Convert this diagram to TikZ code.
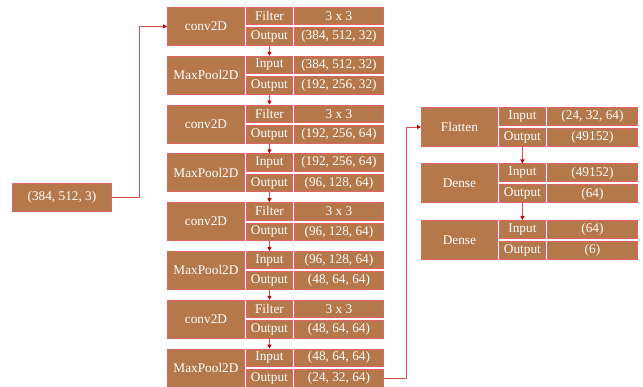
\documentclass[tikz,border=0pt]{standalone}
\usepackage{fontspec}
\setmainfont{Liberation Serif}
\usetikzlibrary{arrows.meta}
\definecolor{cellfill}{HTML}{B5784A}
\definecolor{cellline}{HTML}{E06464}
\definecolor{linkline}{HTML}{D65050}
\definecolor{tipred}{HTML}{C00000}
\tikzset{
  cell/.style={draw=cellline, fill=cellfill, text=white, line width=0.9pt,
    inner sep=0pt, anchor=north west, font=\fontsize{13.3}{15}\selectfont},
  namecell/.style={cell, minimum width=77pt, minimum height=38pt},
  keycell/.style={cell, minimum width=46pt, minimum height=17.5pt},
  valcell/.style={cell, minimum width=89pt, minimum height=17.5pt},
  link/.style={draw=linkline, line width=0.8pt, -{Triangle[length=4pt,width=4pt,fill=tipred,color=tipred]}}
}
\begin{document}
\begin{tikzpicture}[x=1pt,y=1pt]
\useasboundingbox (0,0) rectangle (643,-387);
\node [cell, minimum width=99pt, minimum height=28pt] (in) at (12,-183) {(384, 512, 3)};
\node [namecell] (c1) at (167,-7) {conv2D};
\node [keycell] (c1f) at (246,-7) {Filter};
\node [valcell] (c1fv) at (294,-7) {3 x 3};
\node [keycell] (c1o) at (246,-27.5) {Output};
\node [valcell] (c1ov) at (294,-27.5) {(384, 512, 32)};
\node [namecell] (m1) at (167,-55.8) {MaxPool2D};
\node [keycell] (m1i) at (246,-55.8) {Input};
\node [valcell] (m1iv) at (294,-55.8) {(384, 512, 32)};
\node [keycell] (m1o) at (246,-76.3) {Output};
\node [valcell] (m1ov) at (294,-76.3) {(192, 256, 32)};
\node [namecell] (c2) at (167,-104.6) {conv2D};
\node [keycell] (c2f) at (246,-104.6) {Filter};
\node [valcell] (c2fv) at (294,-104.6) {3 x 3};
\node [keycell] (c2o) at (246,-125.1) {Output};
\node [valcell] (c2ov) at (294,-125.1) {(192, 256, 64)};
\node [namecell] (m2) at (167,-153.4) {MaxPool2D};
\node [keycell] (m2i) at (246,-153.4) {Input};
\node [valcell] (m2iv) at (294,-153.4) {(192, 256, 64)};
\node [keycell] (m2o) at (246,-173.9) {Output};
\node [valcell] (m2ov) at (294,-173.9) {(96, 128, 64)};
\node [namecell] (c3) at (167,-202.2) {conv2D};
\node [keycell] (c3f) at (246,-202.2) {Filter};
\node [valcell] (c3fv) at (294,-202.2) {3 x 3};
\node [keycell] (c3o) at (246,-222.7) {Output};
\node [valcell] (c3ov) at (294,-222.7) {(96, 128, 64)};
\node [namecell] (m3) at (167,-251) {MaxPool2D};
\node [keycell] (m3i) at (246,-251) {Input};
\node [valcell] (m3iv) at (294,-251) {(96, 128, 64)};
\node [keycell] (m3o) at (246,-271.5) {Output};
\node [valcell] (m3ov) at (294,-271.5) {(48, 64, 64)};
\node [namecell] (c4) at (167,-299.8) {conv2D};
\node [keycell] (c4f) at (246,-299.8) {Filter};
\node [valcell] (c4fv) at (294,-299.8) {3 x 3};
\node [keycell] (c4o) at (246,-320.3) {Output};
\node [valcell] (c4ov) at (294,-320.3) {(48, 64, 64)};
\node [namecell] (m4) at (167,-348.6) {MaxPool2D};
\node [keycell] (m4i) at (246,-348.6) {Input};
\node [valcell] (m4iv) at (294,-348.6) {(48, 64, 64)};
\node [keycell] (m4o) at (246,-369.1) {Output};
\node [valcell] (m4ov) at (294,-369.1) {(24, 32, 64)};
\node [namecell, minimum width=76pt, minimum height=39pt] (fl) at (421,-107) {Flatten};
\node [keycell, minimum height=18pt] (fli) at (499,-107) {Input};
\node [valcell, minimum width=90pt, minimum height=18pt] (fliv) at (547,-107) {(24, 32, 64)};
\node [keycell, minimum height=18pt] (flo) at (499,-128) {Output};
\node [valcell, minimum width=90pt, minimum height=18pt] (flov) at (547,-128) {(49152)};
\node [namecell, minimum width=76pt, minimum height=39pt] (d1) at (421,-163.5) {Dense};
\node [keycell, minimum height=18pt] (d1i) at (499,-163.5) {Input};
\node [valcell, minimum width=90pt, minimum height=18pt] (d1iv) at (547,-163.5) {(49152)};
\node [keycell, minimum height=18pt] (d1o) at (499,-184.5) {Output};
\node [valcell, minimum width=90pt, minimum height=18pt] (d1ov) at (547,-184.5) {(64)};
\node [namecell, minimum width=76pt, minimum height=39pt] (d2) at (421,-220) {Dense};
\node [keycell, minimum height=18pt] (d2i) at (499,-220) {Input};
\node [valcell, minimum width=90pt, minimum height=18pt] (d2iv) at (547,-220) {(64)};
\node [keycell, minimum height=18pt] (d2o) at (499,-241) {Output};
\node [valcell, minimum width=90pt, minimum height=18pt] (d2ov) at (547,-241) {(6)};
\draw [link] (in.east) -- ++(27,0) |- (c1.west);
\draw [link] (c1o.south) -- (m1i.north);
\draw [link] (m1o.south) -- (c2f.north);
\draw [link] (c2o.south) -- (m2i.north);
\draw [link] (m2o.south) -- (c3f.north);
\draw [link] (c3o.south) -- (m3i.north);
\draw [link] (m3o.south) -- (c4f.north);
\draw [link] (c4o.south) -- (m4i.north);
\draw [link] (m4ov.east) -- ++(22,0) |- (fl.west);
\draw [link] (flo.south) -- (d1i.north);
\draw [link] (d1o.south) -- (d2i.north);
\end{tikzpicture}
\end{document}
